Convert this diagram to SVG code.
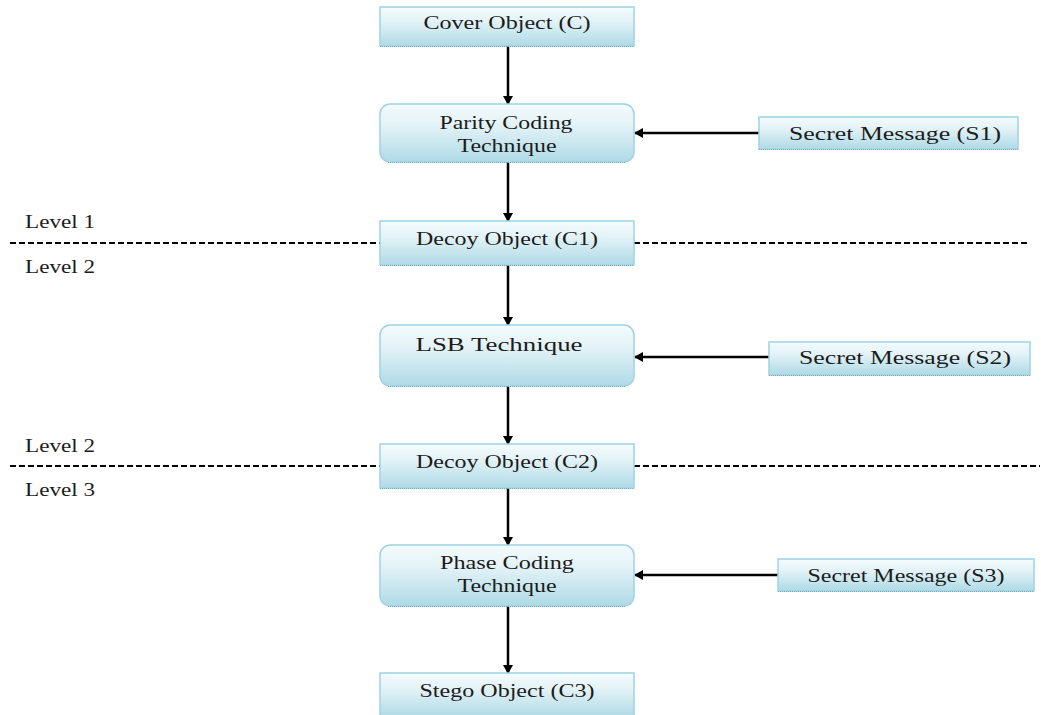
<svg xmlns="http://www.w3.org/2000/svg" width="1041" height="715" viewBox="0 0 1041 715">
  <style>
    .box { fill: url(#boxFill); stroke: #9fd3e3; stroke-width: 1.5; }
    .base { stroke: #7aa7b5; stroke-width: 1.2; stroke-dasharray: 1 1; fill: none; }
    .lbl { font-family: "Liberation Serif", "Times New Roman", serif; font-size: 18px; fill: #1c1c1c; text-anchor: middle; }
    .lvl { font-family: "Liberation Serif", "Times New Roman", serif; font-size: 18px; fill: #1c1c1c; }
    .wire { stroke: #000; stroke-width: 2.5; fill: none; marker-end: url(#arrow); }
    .divider { stroke: #000; stroke-width: 2; stroke-dasharray: 6 3; fill: none; }
  </style>
  <defs>
    <linearGradient id="boxFill" x1="0" y1="0" x2="0" y2="1">
      <stop offset="0" stop-color="#f4fbfd"/>
      <stop offset="0.35" stop-color="#e4f3f7"/>
      <stop offset="1" stop-color="#afdae6"/>
    </linearGradient>
    <marker id="arrow" markerWidth="10" markerHeight="10" refX="8" refY="5" orient="auto" markerUnits="userSpaceOnUse">
      <path d="M0,0 L9,5 L0,10 z" fill="#000"/>
    </marker>
  </defs>

  <rect width="1041" height="715" fill="#fff"/>

  <!-- level dividers -->
  <g id="dividers">
    <line class="divider" x1="10" y1="243" x2="380" y2="243"/>
    <line class="divider" x1="634" y1="243" x2="1030" y2="243"/>
    <line class="divider" x1="10" y1="466" x2="380" y2="466"/>
    <line class="divider" x1="634" y1="466" x2="1040" y2="466"/>
    <text class="lvl" x="25" y="228" textLength="70" lengthAdjust="spacingAndGlyphs">Level 1</text>
    <text class="lvl" x="25" y="273" textLength="70" lengthAdjust="spacingAndGlyphs">Level 2</text>
    <text class="lvl" x="25" y="452" textLength="70" lengthAdjust="spacingAndGlyphs">Level 2</text>
    <text class="lvl" x="25" y="496" textLength="70" lengthAdjust="spacingAndGlyphs">Level 3</text>
  </g>

  <!-- connectors -->
  <g id="connectors">
    <line class="wire" x1="508" y1="46" x2="508" y2="104"/>
    <line class="wire" x1="508" y1="162" x2="508" y2="221"/>
    <line class="wire" x1="508" y1="265" x2="508" y2="325"/>
    <line class="wire" x1="508" y1="386" x2="508" y2="444"/>
    <line class="wire" x1="508" y1="488" x2="508" y2="545"/>
    <line class="wire" x1="508" y1="606" x2="508" y2="673"/>
    <line class="wire" x1="759" y1="133" x2="635" y2="133"/>
    <line class="wire" x1="769" y1="357" x2="635" y2="357"/>
    <line class="wire" x1="778" y1="575" x2="635" y2="575"/>
  </g>

  <g id="cover">
    <rect class="box" x="380" y="7" width="254" height="39"/>
    <line class="base" x1="380" y1="46.5" x2="634" y2="46.5"/>
    <text class="lbl" x="507" y="29" textLength="167" lengthAdjust="spacingAndGlyphs">Cover Object (C)</text>
  </g>

  <g id="parity">
    <rect class="box" x="380" y="104" width="254" height="58" rx="10"/>
    <line class="base" x1="388" y1="162.5" x2="626" y2="162.5"/>
    <text class="lbl" x="506" y="129" textLength="133" lengthAdjust="spacingAndGlyphs">Parity Coding</text>
    <text class="lbl" x="507" y="152" textLength="99" lengthAdjust="spacingAndGlyphs">Technique</text>
  </g>

  <g id="secret1">
    <rect class="box" x="759" y="117" width="259" height="32"/>
    <line class="base" x1="759" y1="149.5" x2="1018" y2="149.5"/>
    <text class="lbl" x="895" y="140" textLength="212" lengthAdjust="spacingAndGlyphs">Secret Message (S1)</text>
  </g>

  <g id="decoy1">
    <rect class="box" x="380" y="221" width="254" height="44"/>
    <line class="base" x1="380" y1="265.5" x2="634" y2="265.5"/>
    <text class="lbl" x="507" y="245" textLength="182" lengthAdjust="spacingAndGlyphs">Decoy Object (C1)</text>
  </g>

  <g id="lsb">
    <rect class="box" x="380" y="325" width="254" height="61" rx="10"/>
    <line class="base" x1="388" y1="386.5" x2="626" y2="386.5"/>
    <text class="lbl" x="499" y="351" textLength="167" lengthAdjust="spacingAndGlyphs">LSB Technique</text>
  </g>

  <g id="secret2">
    <rect class="box" x="769" y="342" width="261" height="33"/>
    <line class="base" x1="769" y1="375.5" x2="1030" y2="375.5"/>
    <text class="lbl" x="905" y="364" textLength="212" lengthAdjust="spacingAndGlyphs">Secret Message (S2)</text>
  </g>

  <g id="decoy2">
    <rect class="box" x="380" y="444" width="254" height="44"/>
    <line class="base" x1="380" y1="488.5" x2="634" y2="488.5"/>
    <text class="lbl" x="507" y="468" textLength="182" lengthAdjust="spacingAndGlyphs">Decoy Object (C2)</text>
  </g>

  <g id="phase">
    <rect class="box" x="380" y="545" width="254" height="61" rx="10"/>
    <line class="base" x1="388" y1="606.5" x2="626" y2="606.5"/>
    <text class="lbl" x="507" y="569" textLength="134" lengthAdjust="spacingAndGlyphs">Phase Coding</text>
    <text class="lbl" x="507" y="592" textLength="99" lengthAdjust="spacingAndGlyphs">Technique</text>
  </g>

  <g id="secret3">
    <rect class="box" x="778" y="559" width="256" height="32"/>
    <line class="base" x1="778" y1="591.5" x2="1034" y2="591.5"/>
    <text class="lbl" x="906" y="582" textLength="197" lengthAdjust="spacingAndGlyphs">Secret Message (S3)</text>
  </g>

  <g id="stego">
    <rect class="box" x="380" y="673" width="254" height="44"/>
    <text class="lbl" x="507" y="697" textLength="175" lengthAdjust="spacingAndGlyphs">Stego Object (C3)</text>
  </g>
</svg>
